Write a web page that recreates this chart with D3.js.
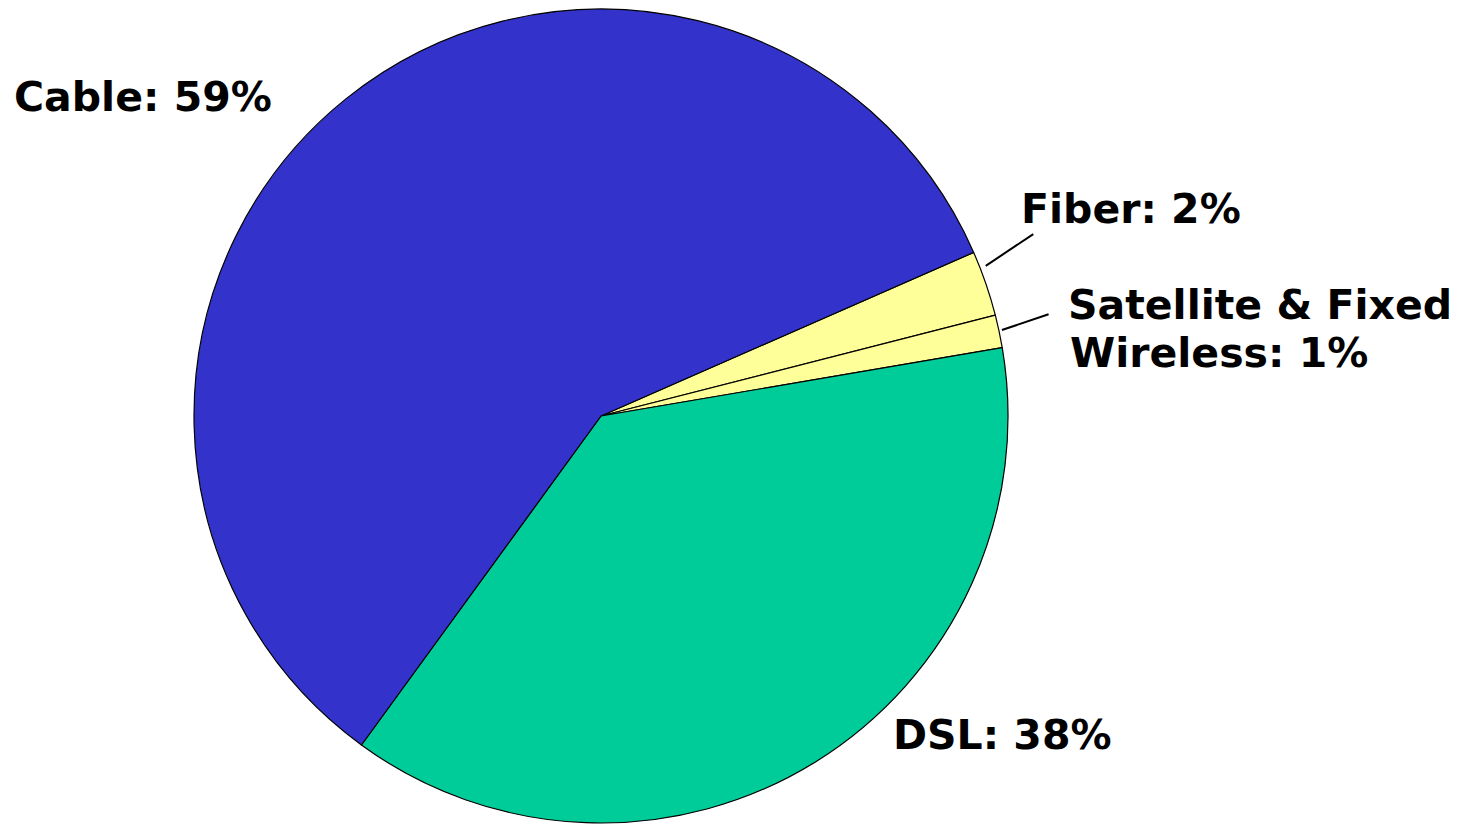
<!DOCTYPE html>
<html>
<head>
<meta charset="utf-8">
<script src="https://cdn.jsdelivr.net/npm/d3@7"></script>
<style>
  body { margin: 0; background: #fff; }
  text { font-family: Verdana, "DejaVu Sans", sans-serif; font-weight: bold; fill: #000; }
</style>
</head>
<body>
<script>
// slices in clockwise order, starting just below the top-right
const categories = ["Fiber", "Satellite & Fixed Wireless", "DSL", "Cable"];
const shares = [2.6, 1.3, 37.7, 58.4];
const labelText = [["Fiber: 2%"], ["Satellite & Fixed", "Wireless: 1%"], ["DSL: 38%"], ["Cable: 59%"]];
const colors = ["#FFFF99", "#FFFF99", "#00CC99", "#3333CC"];

const WIDTH = 1458, HEIGHT = 824;
const cx = 601, cy = 416, R = 407;

const svg = d3.select("body").append("svg")
  .attr("width", WIDTH).attr("height", HEIGHT);

const g = svg.append("g").attr("transform", `translate(${cx},${cy})`);

const startA = 66.3 * Math.PI / 180;
const pie = d3.pie().sort(null).value(d => d)
  .startAngle(startA).endAngle(startA + 2 * Math.PI);
const arcs = pie(shares);

const arc = d3.arc().innerRadius(0).outerRadius(R);

g.selectAll("path.slice")
  .data(arcs)
  .enter()
  .append("path")
  .attr("class", "slice")
  .attr("d", arc)
  .attr("fill", (d, i) => colors[i])
  .attr("stroke", "#000")
  .attr("stroke-width", 1.2)
  .attr("stroke-linejoin", "round");

// leader lines for the two thin slices (angle offsets in degrees from slice middle)
const deg = Math.PI / 180;
const leaders = [
  { i: 0, r1: R + 6, a1: -2.3, r2: R + 62, a2: -3.8 },
  { i: 1, r1: R + 3, a1: -0.1, r2: R + 52, a2: -0.8 }
];
const polar = (r, a) => [r * Math.sin(a), -r * Math.cos(a)];
leaders.forEach(l => {
  const mid = (arcs[l.i].startAngle + arcs[l.i].endAngle) / 2;
  const p1 = polar(l.r1, mid + l.a1 * deg);
  const p2 = polar(l.r2, mid + l.a2 * deg);
  g.append("line")
    .attr("x1", p1[0]).attr("y1", p1[1])
    .attr("x2", p2[0]).attr("y2", p2[1])
    .attr("stroke", "#000").attr("stroke-width", 2);
});

// label anchor points (page coords, start of text baseline)
const labelPos = [[1021, 223], [1068, 319], [893, 749], [14, 111]];
const lineGap = 48;

labelText.forEach((lines, i) => {
  const t = svg.append("text")
    .attr("x", labelPos[i][0]).attr("y", labelPos[i][1])
    .style("font-size", "41px");
  lines.forEach((s, j) => {
    t.append("tspan")
      .attr("x", labelPos[i][0] + (j > 0 ? 2 : 0))
      .attr("dy", j === 0 ? 0 : lineGap)
      .text(s);
  });
});
</script>
</body>
</html>
